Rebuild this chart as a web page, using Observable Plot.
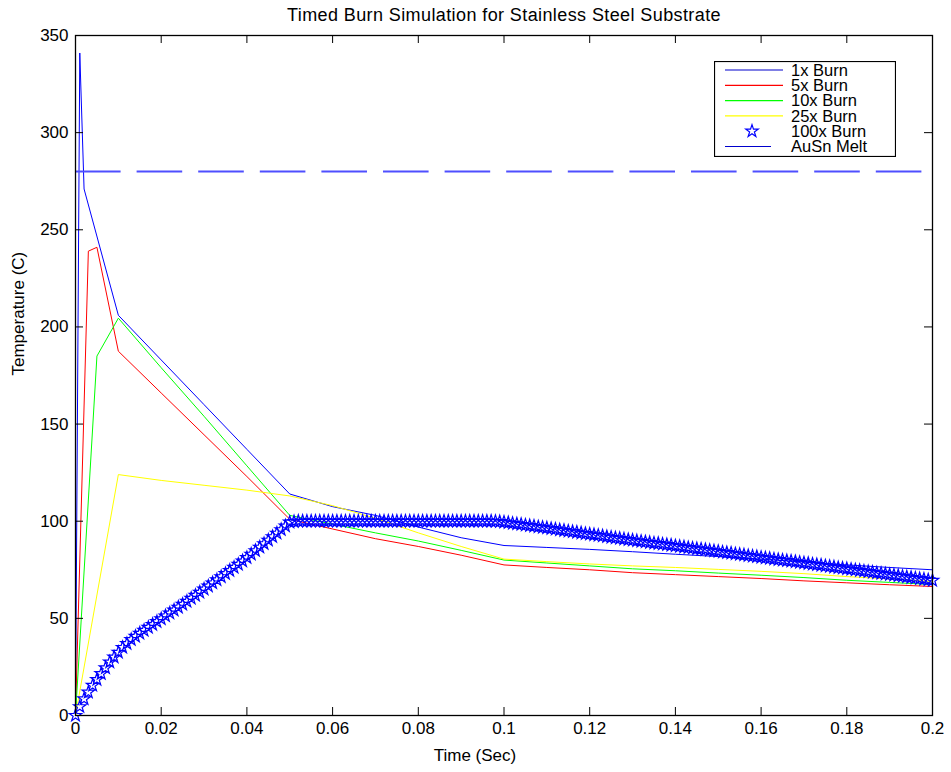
<!DOCTYPE html>
<html>
<head>
<meta charset="utf-8">
<script src="https://cdn.jsdelivr.net/npm/d3@7"></script>
<script src="https://cdn.jsdelivr.net/npm/@observablehq/plot@0.6"></script>
<style>
  html, body { margin: 0; padding: 0; background: #fff; }
  #wrap { position: relative; width: 951px; height: 772px; }
  #legend { position: absolute; left: 714px; top: 61px; }
</style>
</head>
<body>
<div id="wrap"></div>
<script>
// ---------- data ----------
const titleText = "Timed Burn Simulation for Stainless Steel Substrate";
const xLabelText = "Time (Sec)";
const yLabelText = "Temperature (C)";

const xTicks = [0, 0.02, 0.04, 0.06, 0.08, 0.1, 0.12, 0.14, 0.16, 0.18, 0.2];
const xTickLabels = ["0", "0.02", "0.04", "0.06", "0.08", "0.1", "0.12", "0.14", "0.16", "0.18", "0.2"];
const yTicks = [0, 50, 100, 150, 200, 250, 300, 350];
const yTickLabels = ["0", "50", "100", "150", "200", "250", "300", "350"];

const seriesNames = ["1x Burn", "5x Burn", "10x Burn", "25x Burn", "100x Burn", "AuSn Melt"];
const seriesColors = ["#0000ff", "#ff0000", "#00ff00", "#ffff00", "#0000ff", "#4f4fff"];

// 1x Burn
const burn1Time = [0, 0.001, 0.002, 0.01, 0.02, 0.03, 0.04, 0.05, 0.06, 0.07, 0.08, 0.09, 0.1, 0.11, 0.12, 0.13, 0.14, 0.15, 0.16, 0.17, 0.18, 0.19, 0.2];
const burn1Temp = [0, 341, 271, 206, 183, 160, 137, 114, 107.5, 103, 97, 91.5, 87.5, 86.5, 85.5, 84.3, 83, 81.8, 80.5, 79, 77.5, 76.2, 75];
// 5x Burn
const burn5Time = [0, 0.003, 0.005, 0.01, 0.02, 0.03, 0.04, 0.05, 0.06, 0.07, 0.08, 0.09, 0.1, 0.11, 0.12, 0.13, 0.14, 0.15, 0.16, 0.17, 0.18, 0.19, 0.2];
const burn5Temp = [0, 239, 241, 187.5, 166, 144.5, 123, 101, 96, 91, 87, 82.5, 77.5, 76.2, 75, 73.5, 72.5, 71.5, 70.5, 69.3, 68.3, 67.3, 66.4];
// 10x Burn
const burn10Time = [0, 0.005, 0.01, 0.02, 0.03, 0.04, 0.05, 0.06, 0.07, 0.08, 0.09, 0.1, 0.11, 0.12, 0.13, 0.14, 0.15, 0.16, 0.17, 0.18, 0.19, 0.2];
const burn10Temp = [0, 185, 204.5, 179, 154, 128.5, 103, 98.5, 94, 89.8, 85, 80, 78.5, 77, 75.5, 74.5, 73.3, 72.2, 71, 69.6, 68.5, 67.4];
// 25x Burn
const burn25Time = [0, 0.01, 0.02, 0.03, 0.04, 0.05, 0.06, 0.07, 0.08, 0.09, 0.1, 0.11, 0.12, 0.13, 0.14, 0.15, 0.16, 0.17, 0.18, 0.19, 0.2];
const burn25Temp = [0, 124, 121, 118.5, 116, 113, 108, 101.5, 94, 87, 80.5, 79.2, 78, 77, 76.2, 75.2, 74.2, 73, 71.5, 70.3, 69];
// 100x Burn (one marker per millisecond)
const burn100TimeMs = [
  0, 1, 2, 3, 4, 5, 6, 7, 8, 9,
  10, 11, 12, 13, 14, 15, 16, 17, 18, 19,
  20, 21, 22, 23, 24, 25, 26, 27, 28, 29,
  30, 31, 32, 33, 34, 35, 36, 37, 38, 39,
  40, 41, 42, 43, 44, 45, 46, 47, 48, 49,
  50, 51, 52, 53, 54, 55, 56, 57, 58, 59,
  60, 61, 62, 63, 64, 65, 66, 67, 68, 69,
  70, 71, 72, 73, 74, 75, 76, 77, 78, 79,
  80, 81, 82, 83, 84, 85, 86, 87, 88, 89,
  90, 91, 92, 93, 94, 95, 96, 97, 98, 99,
  100, 101, 102, 103, 104, 105, 106, 107, 108, 109,
  110, 111, 112, 113, 114, 115, 116, 117, 118, 119,
  120, 121, 122, 123, 124, 125, 126, 127, 128, 129,
  130, 131, 132, 133, 134, 135, 136, 137, 138, 139,
  140, 141, 142, 143, 144, 145, 146, 147, 148, 149,
  150, 151, 152, 153, 154, 155, 156, 157, 158, 159,
  160, 161, 162, 163, 164, 165, 166, 167, 168, 169,
  170, 171, 172, 173, 174, 175, 176, 177, 178, 179,
  180, 181, 182, 183, 184, 185, 186, 187, 188, 189,
  190, 191, 192, 193, 194, 195, 196, 197, 198, 199,
  200
];
const burn100Temp = [
  0, 4.5, 8.5, 12, 15.5, 18.5, 21.5, 24.5, 27.5, 30,
  32.5, 35, 37, 39, 40.7, 42.3, 43.8, 45.3, 46.8, 48.3,
  49.7, 51.2, 52.7, 54.2, 55.7, 57.2, 58.7, 60.3, 61.8, 63.4,
  65, 66.6, 68.2, 69.8, 71.4, 73, 74.6, 76.2, 77.8, 79.5,
  81.2, 83, 84.8, 86.6, 88.4, 90.2, 92, 93.8, 95.6, 97.5,
  99.5, 99.8, 100, 100, 100, 100, 100, 100, 100, 100,
  100, 100, 100, 100, 100, 100, 100, 100, 100, 100,
  100, 100, 100, 100, 100, 100, 100, 100, 100, 100,
  100, 100, 100, 100, 100, 100, 100, 100, 100, 100,
  100, 100, 100, 100, 100, 100, 100, 100, 99.9, 99.8,
  99.5, 99.2, 98.9, 98.6, 98.3, 98.0, 97.7, 97.4, 97.1, 96.8,
  96.5, 96.2, 95.9, 95.5, 95.2, 94.9, 94.6, 94.3, 93.9, 93.6,
  93.3, 93.0, 92.7, 92.4, 92.0, 91.7, 91.4, 91.1, 90.8, 90.5,
  90.2, 89.9, 89.6, 89.3, 89.0, 88.7, 88.5, 88.2, 87.9, 87.6,
  87.3, 87.0, 86.7, 86.4, 86.1, 85.8, 85.6, 85.3, 85.0, 84.7,
  84.4, 84.1, 83.8, 83.5, 83.2, 82.9, 82.6, 82.3, 82.0, 81.7,
  81.4, 81.1, 80.8, 80.5, 80.2, 79.9, 79.7, 79.4, 79.1, 78.8,
  78.5, 78.2, 77.9, 77.6, 77.3, 77.0, 76.7, 76.4, 76.1, 75.8,
  75.5, 75.2, 74.9, 74.6, 74.3, 74.0, 73.7, 73.4, 73.1, 72.8,
  72.5, 72.2, 71.9, 71.6, 71.3, 71.0, 70.7, 70.4, 70.1, 69.8,
  69.5
];
// AuSn melt temperature
const meltTemp = [280];

// ---------- build tables ----------
const toRows = (ts, vs) => ts.map((t, i) => ({t, v: vs[i]}));
const burn1 = toRows(burn1Time, burn1Temp);
const burn5 = toRows(burn5Time, burn5Temp);
const burn10 = toRows(burn10Time, burn10Temp);
const burn25 = toRows(burn25Time, burn25Temp);
const burn100 = burn100TimeMs.map((ms, i) => ({t: ms / 1000, v: burn100Temp[i]}));

const FONT = "'Liberation Sans', Arial, Helvetica, sans-serif";
const FS = 17;

const chart = Plot.plot({
  width: 951,
  height: 772,
  marginLeft: 75,
  marginRight: 19,
  marginTop: 35,
  marginBottom: 57,
  style: {fontFamily: FONT, fontSize: FS + "px", background: "#fff", color: "#000", overflow: "visible"},
  x: {domain: [0, 0.2]},
  y: {domain: [0, 350]},
  marks: [
    // data
    Plot.line(burn1, {x: "t", y: "v", stroke: seriesColors[0], strokeWidth: 1}),
    Plot.line(burn5, {x: "t", y: "v", stroke: seriesColors[1], strokeWidth: 1}),
    Plot.line(burn10, {x: "t", y: "v", stroke: seriesColors[2], strokeWidth: 1}),
    Plot.line(burn25, {x: "t", y: "v", stroke: seriesColors[3], strokeWidth: 1}),
    Plot.dot(burn100, {x: "t", y: "v", symbol: "star", r: 3.9, stroke: seriesColors[4], fill: "none", strokeWidth: 1.2}),
    Plot.ruleY(meltTemp, {y: d => d, stroke: seriesColors[5], strokeWidth: 2, strokeDasharray: "45.6 16"}),
    // inward ticks on all four sides
    Plot.tickX(xTicks, {x: d => d, insetTop: 672, stroke: "#000"}),
    Plot.tickX(xTicks, {x: d => d, insetBottom: 672, stroke: "#000"}),
    Plot.tickY(yTicks, {y: d => d, insetRight: 849, stroke: "#000"}),
    Plot.tickY(yTicks, {y: d => d, insetLeft: 849, stroke: "#000"}),
    Plot.frame({stroke: "#000", strokeWidth: 1.3}),
    // tick labels
    Plot.axisX(xTicks, {tickSize: 0, tickPadding: 6, tickFormat: (d, i) => xTickLabels[i], label: null, fontSize: FS}),
    Plot.axisY(yTicks, {tickSize: 0, tickPadding: 7, tickFormat: (d, i) => yTickLabels[i], label: null, fontSize: FS}),
    // titles
    Plot.text([titleText], {frameAnchor: "top", dy: -15, fontSize: 18, lineAnchor: "bottom"}),
    Plot.text([xLabelText], {frameAnchor: "bottom", dx: -29, dy: 40, fontSize: FS, lineAnchor: "middle"}),
    Plot.text([yLabelText], {frameAnchor: "left", dx: -57, rotate: -90, fontSize: FS, lineAnchor: "middle"})
  ]
});

const wrap = document.getElementById("wrap");
wrap.appendChild(chart);
d3.select(chart).selectAll("text").filter(function () { return this.textContent === titleText; })
  .style("letter-spacing", "0.4px");

// ---------- legend ----------
const lw = 182, lh = 96;
const legend = d3.select(wrap).append("svg")
  .attr("id", "legend")
  .attr("width", lw).attr("height", lh)
  .style("font-family", FONT).style("font-size", "16.5px");
legend.append("rect").attr("x", 0.5).attr("y", 0.5).attr("width", lw - 1).attr("height", lh - 1)
  .attr("fill", "#fff").attr("stroke", "#000").attr("stroke-width", 1.2);
seriesNames.forEach((name, i) => {
  const cy = 9 + i * 15.3;
  if (i === 4) {
    legend.append("path")
      .attr("d", d3.symbol(d3.symbolStar, Math.PI * 3.9 * 3.9)())
      .attr("transform", `translate(38,${cy})`)
      .attr("fill", "none").attr("stroke", seriesColors[i]).attr("stroke-width", 1.2);
  } else {
    legend.append("line")
      .attr("x1", 11).attr("x2", i === 5 ? 57 : 69)
      .attr("y1", cy).attr("y2", cy)
      .attr("stroke", (i === 5 || i === 0) ? "#0000cc" : seriesColors[i]).attr("stroke-width", 1.2);
  }
  legend.append("text")
    .attr("x", 77).attr("y", cy).attr("dy", "0.35em")
    .attr("fill", "#000")
    .text(name);
});
</script>
</body>
</html>
